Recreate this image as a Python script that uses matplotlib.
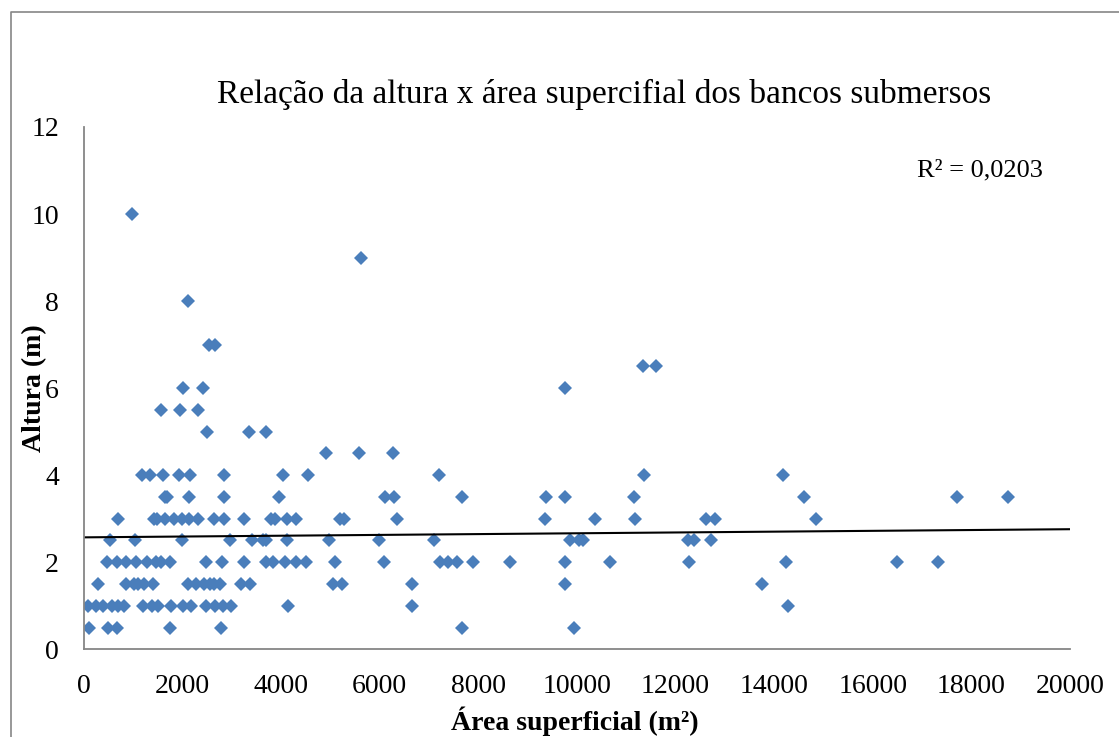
import numpy as np
import matplotlib
matplotlib.use("Agg")
import matplotlib.pyplot as plt
from matplotlib.lines import Line2D

plt.rcParams['font.family'] = ['Liberation Serif', 'DejaVu Serif']

# area (m2) and height (m) of each bank, grouped by height
area = [
    110, 490, 670, 1750, 2770, 7660, 9940,
    80, 250, 390, 560, 690, 820, 1200, 1370, 1500, 1770, 2010, 2180, 2480,
    2650, 2820, 2990, 4140, 6650, 14290,
    280, 860, 1010, 1100, 1220, 1400, 2110, 2280, 2440, 2550, 2640, 2760,
    3190, 3370, 5060, 5230, 6650, 9760, 13760,
    460, 660, 860, 1060, 1270, 1470, 1570, 1740, 2480, 2790, 3240, 3700,
    3840, 4080, 4310, 4510, 5090, 6080, 7230, 7390, 7570, 7890, 8640, 9750,
    10670, 12280, 14230, 16500, 17320,
    520, 1030, 1990, 2970, 3410, 3640, 3690, 4120, 4970, 5990, 7090, 9850,
    10050, 10120, 12260, 12370, 12720,
    680, 1410, 1490, 1640, 1820, 1980, 2120, 2320, 2630, 2830, 3250, 3790,
    3870, 4110, 4310, 5190, 5270, 6340, 9360, 10370, 11180, 12610, 12790, 14840,
    1640, 1680, 2120, 2830, 3950, 6110, 6280, 7660, 9380, 9750, 11160, 14610,
    17710, 18750,
    1170, 1340, 1600, 1920, 2150, 2830, 4030, 4550, 7210, 11360, 14170,
    4910, 5580, 6260,
    2490, 3340, 3700,
    1560, 1950, 2320,
    2000, 2420, 9750,
    11330, 11600,
    2540, 2650,
    2100,
    5620,
    970,
]
altura = (
    [0.5] * 7 + [1.0] * 19 + [1.5] * 19 + [2.0] * 29 + [2.5] * 17
    + [3.0] * 24 + [3.5] * 14 + [4.0] * 11 + [4.5] * 3 + [5.0] * 3
    + [5.5] * 3 + [6.0] * 3 + [6.5] * 2 + [7.0] * 2 + [8.0] + [9.0] + [10.0]
)

# linear trend (intercept, slope) and its R2 label
tendencia_a = 2.572
tendencia_b = 9.35e-6
r2_texto = 'R² = 0,0203'

x_ticks = [0, 2000, 4000, 6000, 8000, 10000, 12000, 14000, 16000, 18000, 20000]
y_ticks = [0, 2, 4, 6, 8, 10, 12]

fig = plt.figure(figsize=(11.19, 7.37), dpi=100)
ax = fig.add_axes([0.07507, 0.1190, 0.88114, 0.7087])

ax.plot(area, altura, linestyle='none', marker='D', markersize=7.4,
        color='#4A7EBB', markeredgewidth=0)

xs = np.array([0, 20000])
ax.plot(xs, tendencia_a + tendencia_b * xs, color='black', linewidth=1.5)

ax.set_xlim(0, 20000)
ax.set_ylim(0, 12)
ax.set_xticks(x_ticks)
ax.set_yticks(y_ticks)
ax.tick_params(length=0, labelsize=20, pad=18)
for side in ['top', 'right']:
    ax.spines[side].set_visible(False)
for side in ['left', 'bottom']:
    ax.spines[side].set_color('#868686')
    ax.spines[side].set_linewidth(1.3)

fig.text(0.54, 0.872, 'Relação da altura x área supercifial dos bancos submersos',
         ha='center', va='center', fontsize=24)
fig.text(0.876, 0.769, r2_texto, ha='center', va='center', fontsize=19)
fig.text(0.514, 0.022, 'Área superficial (m²)', ha='center', va='center',
         fontsize=20, fontweight='bold')
fig.text(0.031, 0.473, 'Altura (m)', ha='center', va='center', rotation=90,
         fontsize=20, fontweight='bold')

# chart frame
fig.add_artist(Line2D([0.00983, 0.00983, 1.01], [-0.01, 0.98372, 0.98372],
                      color='#868686', linewidth=1.2, transform=fig.transFigure))

fig.savefig('out.png', dpi=100)
